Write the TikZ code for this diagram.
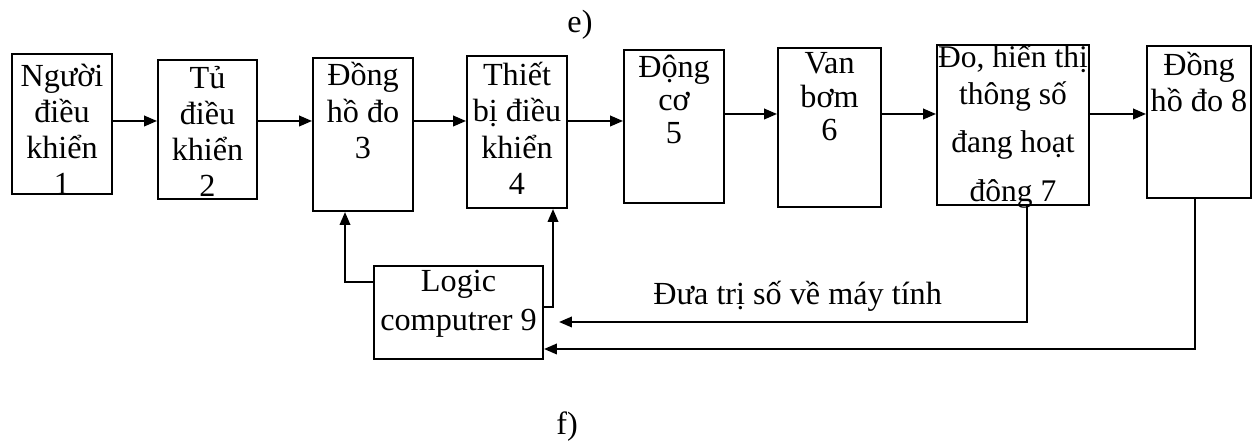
\documentclass[tikz,border=0pt]{standalone}
\usepackage{fontspec}
\setmainfont{Liberation Serif}
\usepackage{tikz}
\usetikzlibrary{arrows.meta,positioning,calc}
\tikzset{
  blk/.style 2 args={draw, line width=0.9pt, minimum width=#1*0.4348pt,
    minimum height=#2*0.4348pt, anchor=north west, inner sep=0pt},
  txt/.style={anchor=base, align=center, inner sep=0pt,
    font=\fontsize{14pt}{15.7pt}\selectfont},
  arr/.style={line width=0.8pt, -{Triangle[length=5.6pt,width=4.6pt]}}
}

\begin{document}
\begin{tikzpicture}[x=0.4348pt, y=-0.4348pt]
  \useasboundingbox (0,0) rectangle (1259,442);
  % blocks
  \node[blk={100}{140}] (b1) at (11,53) {};
  \node[blk={99}{139}] (b2) at (157,59) {};
  \node[blk={100}{153}] (b3) at (312,57) {};
  \node[blk={100}{152}] (b4) at (466,55) {};
  \node[blk={100}{153}] (b5) at (623,49) {};
  \node[blk={103}{159}] (b6) at (777,47) {};
  \node[blk={152}{160}] (b7) at (936,44) {};
  \node[blk={104}{152}] (b8) at (1146,45) {};
  \node[blk={169}{93}] (b9) at (373,265) {};
  % texts sit on the baseline of their last line
  \node[txt] (t1) at ([yshift=-61.5pt]b1.north) {Người\\điều\\khiển\\1};
  \node[txt] (t2) at ([yshift=-60pt]b2.north) {Tủ\\điều\\khiển\\2};
  \node[txt] (t3) at ([yshift=-44pt]b3.north) {Đồng\\hồ đo\\3};
  \node[txt] (t4) at ([yshift=-60.5pt]b4.north) {Thiết\\bị điều\\khiển\\4};
  \node[txt] (t5) at ([yshift=-41pt]b5.north) {Động\\[-1.3pt]cơ\\[-1.3pt]5};
  \node[txt] (t6) at ([yshift=-40.5pt]b6.north) {Van\\[-1.3pt]bơm\\[-1.3pt]6};
  \node[txt, font=\fontsize{13.7pt}{15.7pt}\selectfont] (t7) at ([yshift=-68.5pt]b7.north)
    {Đo, hiển thị\\thông số\\[5.5pt]đang hoạt\\[5.5pt]đông 7};
  \node[txt] (t8) at ([yshift=-29pt]b8.north) {Đồng\\hồ đo 8};
  \node[txt] (t9) at ([yshift=-28.3pt]b9.north) {Logic\\[1pt]computrer 9};
  % forward chain
  \coordinate (r1) at (0,121);
  \coordinate (r2) at (0,114);
  \draw[arr] (b1.east |- r1) -- (b2.west |- r1);
  \draw[arr] (b2.east |- r1) -- (b3.west |- r1);
  \draw[arr] (b3.east |- r1) -- (b4.west |- r1);
  \draw[arr] (b4.east |- r1) -- (b5.west |- r1);
  \draw[arr] (b5.east |- r2) -- (b6.west |- r2);
  \draw[arr] (b6.east |- r2) -- (b7.west |- r2);
  \draw[arr] (b7.east |- r2) -- (b8.west |- r2);
  % feedback to the computer
  \draw[arr] ($(b9.north west)+(0,17)$) -| ($(b3.south west)+(33,0)$);
  \draw[arr] ($(b9.north east)+(0,42)$) -| ($(b4.south west)+(87,0)$);
  \coordinate (in7) at ($(b9.north east)+(15,57)$);
  \draw[arr] ($(b7.south west)+(91,0)$) |- (in7);
  \draw[arr] ($(b8.south west)+(49,0)$) |- ($(b9.north east)+(0,84)$);
  \node[txt, anchor=base west] (lbl) at (653,305) {Đưa trị số về máy tính};
  \node[txt] (cap1) at (580,33) {e)};
  \node[txt] (cap2) at (567,435) {f)};
\end{tikzpicture}
\end{document}
